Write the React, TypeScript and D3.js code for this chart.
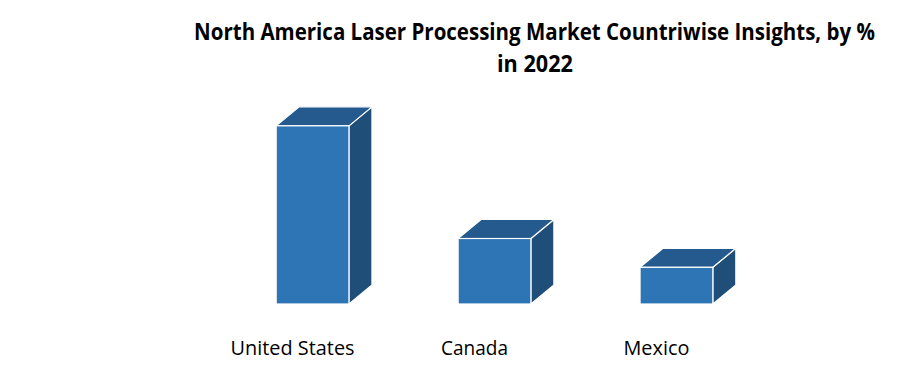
import React, { useEffect, useRef } from "react";
import * as d3 from "d3";

const categories = ["United States", "Canada", "Mexico"];
const values = [68, 25, 14];
const titleLines = ["North America Laser Processing Market Countriwise Insights, by %", "in 2022"];

const W = 900;
const H = 382;
const BASE = 304;
const DX = 23;
const DY = -19;

export default function App() {
  const ref = useRef<SVGSVGElement>(null);
  const x = d3.scaleBand<string>().domain(categories).range([167, 822]).padding(0.6);
  const y = d3.scaleLinear().domain([0, 100]).range([BASE, 42]);
  const bw = x.bandwidth();
  const font = "'Open Sans', 'Liberation Sans', sans-serif";

  useEffect(() => {
    if (!ref.current) return;
    d3.select(ref.current)
      .selectAll<SVGTextElement, unknown>("text[data-w]")
      .each(function () {
        const target = +(this.getAttribute("data-w") || 0);
        const natural = this.getComputedTextLength();
        const cx = +(this.getAttribute("data-cx") || 0);
        const cy = +(this.getAttribute("data-cy") || 0);
        const s = natural > 0 ? target / natural : 1;
        this.setAttribute("transform", `translate(${cx},${cy}) scale(${s},1)`);
      });
  }, []);

  const labelCenters = categories.map((c) => (x(c) as number) + bw / 2 - 20);
  const labelWidths = [124, 67, 66];

  return (
    <svg ref={ref} width={W} height={H} style={{ position: "absolute", left: 0, top: 0, background: "#fff" }}>
      <text data-w={681} data-cx={534.5} data-cy={40} transform="translate(534.5,40)" x={0} y={0} textAnchor="middle"
        fontFamily={font} fontWeight={700} fontSize={22.5} fill="#000">{titleLines[0]}</text>
      <text data-w={76} data-cx={535} data-cy={72} transform="translate(535,72)" x={0} y={0} textAnchor="middle"
        fontFamily={font} fontWeight={700} fontSize={22.5} fill="#000">{titleLines[1]}</text>
      {categories.map((c, i) => {
        const x0 = x(c) as number;
        const x1 = x0 + bw;
        const yt = y(values[i]);
        const top = `M${x0},${yt}L${x0 + DX},${yt + DY}L${x1 + DX},${yt + DY}L${x1},${yt}Z`;
        const side = `M${x1},${yt}L${x1 + DX},${yt + DY}L${x1 + DX},${BASE + DY}L${x1},${BASE}Z`;
        return (
          <g key={c}>
            <path d={side} fill="#1F4E79" stroke="#fff" strokeWidth={1.2} strokeLinejoin="round" />
            <path d={top} fill="#245A8D" stroke="#fff" strokeWidth={1.2} strokeLinejoin="round" />
            <rect x={x0} y={yt} width={bw} height={BASE - yt} fill="#2E75B6" stroke="#fff" strokeWidth={1.2} />
          </g>
        );
      })}
      {categories.map((c, i) => (
        <text key={c} data-w={labelWidths[i]} data-cx={labelCenters[i]} data-cy={355}
          transform={`translate(${labelCenters[i]},355)`} x={0} y={0} textAnchor="middle"
          fontFamily={font} fontSize={20.5} fill="#000">{c}</text>
      ))}
    </svg>
  );
}
